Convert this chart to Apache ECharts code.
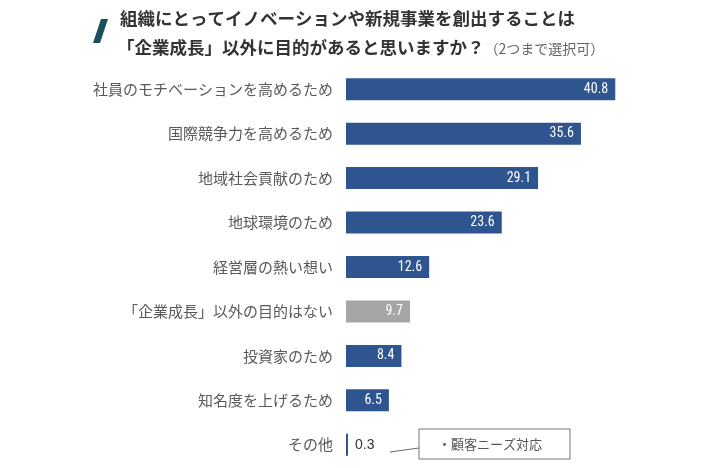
<!DOCTYPE html>
<html><head><meta charset="utf-8">
<script src="https://cdn.jsdelivr.net/npm/echarts@6/dist/echarts.min.js"></script>
<style>html,body{margin:0;padding:0;background:#fff}#c{width:720px;height:468px}</style>
</head><body><div id="c"></div>
<script>
const categories = ["社員のモチベーションを高めるため","国際競争力を高めるため","地域社会貢献のため","地球環境のため","経営層の熱い想い","「企業成長」以外の目的はない","投資家のため","知名度を上げるため","その他"];
const values = [40.8, 35.6, 29.1, 23.6, 12.6, 9.7, 8.4, 6.5, 0.3];
const highlightIndex = 5;
const titleLine1 = "組織にとってイノベーションや新規事業を創出することは";
const titleLine2 = "「企業成長」以外に目的があると思いますか？";
const titleNote = "（2つまで選択可）";
const noteText = "・顧客ニーズ対応";

const FONT = '"Noto Sans CJK JP","Noto Sans",sans-serif';
const NUMFONT = '"Liberation Sans Narrow","Roboto Condensed",Roboto,sans-serif';
const chart = echarts.init(document.getElementById('c'));
const data = values.map((v, i) => {
  const small = v < 3;
  return {
    value: v,
    itemStyle: { color: i === highlightIndex ? '#a6a6a6' : '#2e5590' },
    label: small ? { position: 'right', color: '#333', distance: 7, fontFamily: '"Liberation Sans",Arial,sans-serif', fontSize: 14 } : {}
  };
});
chart.setOption({
  backgroundColor: '#fff',
  animation: false,
  title: [
    { text: titleLine1, left: 115, top: 5, textStyle: { fontFamily: FONT, fontSize: 17.5, fontWeight: 'bold', color: '#333' } },
    { text: '{a|' + titleLine2 + '}{b|' + titleNote + '}', left: 112, top: 34,
      textStyle: { fontWeight: 'normal', rich: {
        a: { fontFamily: FONT, fontSize: 17.5, fontWeight: 'bold', color: '#333' },
        b: { fontFamily: FONT, fontSize: 14, fontWeight: 'normal', color: '#666', padding: [2, 0, 0, 0] }
      } } }
  ],
  grid: { left: 346, right: 77, top: 67, bottom: 1, containLabel: false },
  xAxis: { type: 'value', min: 0, max: 45, show: false },
  yAxis: {
    type: 'category', data: categories, inverse: true,
    axisLine: { show: false }, axisTick: { show: false },
    axisLabel: { fontFamily: FONT, fontSize: 15, color: '#595959', margin: 13 }
  },
  series: [{
    type: 'bar', data: data, barWidth: 22,
    label: { show: true, position: 'insideRight', distance: 7, color: '#fff', fontFamily: NUMFONT, fontWeight: 'normal', fontSize: 14 }
  }],
  graphic: [
    { type: 'polygon', shape: { points: [[101, 19], [108, 19], [100, 43], [93, 43]] }, style: { fill: '#1d4e5c' } },
    { type: 'line', shape: { x1: 390, y1: 452, x2: 419, y2: 448 }, style: { stroke: '#666', lineWidth: 1 } },
    { type: 'rect', shape: { x: 419, y: 429, width: 151, height: 30 }, style: { fill: '#fff', stroke: '#777', lineWidth: 1 } },
    { type: 'text', x: 490, y: 444, style: { text: noteText, fontFamily: FONT, fontSize: 13, fill: '#555', align: 'center', verticalAlign: 'middle' } }
  ]
});
</script></body></html>
